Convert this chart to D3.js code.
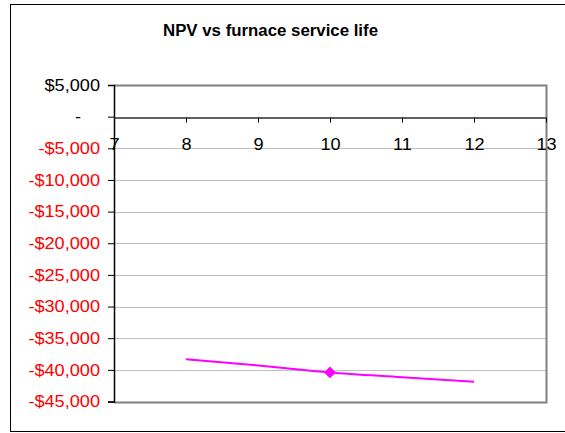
<!DOCTYPE html>
<html>
<head>
<meta charset="utf-8">
<script src="https://cdn.jsdelivr.net/npm/d3@7"></script>
<style>
  html, body { margin: 0; padding: 0; background: #fff; }
  svg { display: block; font-family: "Liberation Sans", Arial, sans-serif; }
</style>
</head>
<body>
<svg id="chart" width="565" height="433"></svg>
<script>
const title = 'NPV vs furnace service life';
const years = [8, 9, 10, 11, 12];
const npv = [-38330, -39300, -40400, -41150, -41880];
const markedYears = [10];
const xTicks = [7, 8, 9, 10, 11, 12, 13];
const yTicks = [5000, 0, -5000, -10000, -15000, -20000, -25000, -30000, -35000, -40000, -45000];

const svg = d3.select('#chart');
const plot = { left: 114, right: 546, top: 85, bottom: 401.5 };
const font = '"Liberation Sans", Arial, sans-serif';

const x = d3.scaleLinear().domain([7, 13]).range([plot.left, plot.right]);
const y = d3.scaleLinear().domain([-45000, 5000]).range([plot.bottom, plot.top]);

// outer chart frame
svg.append('rect')
  .attr('x', 10.5).attr('y', 4.5)
  .attr('width', 570).attr('height', 427)
  .attr('fill', '#fff').attr('stroke', '#000').attr('stroke-width', 1);

svg.append('text')
  .attr('x', 163).attr('y', 36)
  .attr('font-size', 16).attr('font-weight', 'bold')
  .attr('textLength', 215).attr('lengthAdjust', 'spacingAndGlyphs')
  .text(title);

// gridlines
svg.append('g')
  .selectAll('line')
  .data(yTicks.filter((d) => d !== 0 && d !== 5000 && d !== -45000))
  .enter()
  .append('line')
  .attr('x1', plot.left).attr('x2', plot.right)
  .attr('y1', (d) => Math.round(y(d)) + 0.5)
  .attr('y2', (d) => Math.round(y(d)) + 0.5)
  .attr('stroke', '#c0c0c0');

// plot frame (top, right, bottom)
svg.append('path')
  .attr('d', `M${plot.left},${Math.round(plot.top) + 0.5}H${plot.right + 0.5}V${Math.round(plot.bottom) + 0.5}H${plot.left}`)
  .attr('fill', 'none').attr('stroke', '#808080').attr('stroke-width', 2);

// y axis
const yAxis = d3.axisLeft(y)
  .tickValues(yTicks)
  .tickSize(6)
  .tickPadding(8)
  .tickFormat((d) => (d === 0 ? '-' : (d < 0 ? '-$' : '$') + d3.format(',')(Math.abs(d))));

const yg = svg.append('g')
  .attr('transform', `translate(${plot.left},0)`)
  .call(yAxis);
yg.select('.domain').attr('stroke', '#000').attr('stroke-width', 1.5);
yg.selectAll('.tick line').attr('stroke', '#000');
yg.selectAll('.tick text')
  .attr('font-size', 16.5)
  .attr('font-family', font)
  .attr('x', 0)
  .attr('transform', (d) => `translate(${d === 0 ? -33 : -14},0) scale(1.1,1)`)
  .attr('fill', (d) => (d < 0 ? '#ff0000' : '#000'));

// x axis on zero line
const xAxis = d3.axisBottom(x)
  .tickValues(xTicks)
  .tickSizeInner(5)
  .tickSizeOuter(0)
  .tickFormat(d3.format('d'));

const xg = svg.append('g')
  .attr('transform', `translate(0,${Math.round(y(0)) + 0.5})`)
  .call(xAxis);
xg.select('.domain').attr('stroke', '#606060').attr('stroke-width', 2);
xg.selectAll('.tick line').attr('stroke', '#000');
xg.selectAll('.tick text')
  .attr('font-size', 16.5)
  .attr('font-family', font)
  .attr('fill', '#000')
  .attr('y', 0)
  .attr('dy', 0)
  .attr('transform', 'translate(0,32) scale(1.1,1)');

// series line
const points = years.map((yr, i) => ({ yr, v: npv[i] }));
const line = d3.line()
  .x((d) => x(d.yr))
  .y((d) => y(d.v))
  .curve(d3.curveMonotoneX);

svg.append('path')
  .datum(points)
  .attr('d', line)
  .attr('fill', 'none')
  .attr('stroke', '#ff00ff')
  .attr('stroke-width', 2);

svg.append('g')
  .selectAll('path')
  .data(points.filter((d) => markedYears.includes(d.yr)))
  .enter()
  .append('path')
  .attr('d', d3.symbol().type(d3.symbolSquare).size(70))
  .attr('transform', (d) => `translate(${x(d.yr)},${y(d.v)}) rotate(45)`)
  .attr('fill', '#ff00ff');
</script>
</body>
</html>
